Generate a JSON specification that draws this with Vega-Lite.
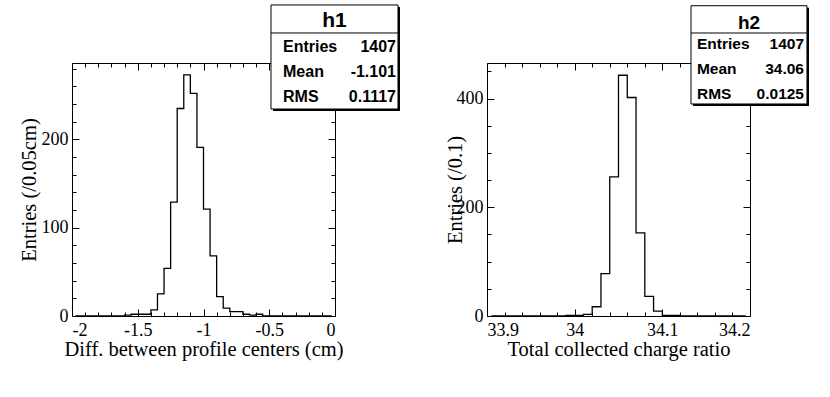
{
  "$schema": "https://vega.github.io/schema/vega-lite/v6.json",
  "background": "white",
  "padding": {"left": 19, "top": 3, "right": 5, "bottom": 5},
  "bounds": "flush",
  "spacing": 152,
  "config": {
    "view": {"stroke": "black", "strokeWidth": 1},
    "axis": {"labelFont": "Liberation Serif", "titleFont": "Liberation Serif", "labelColor": "black", "titleColor": "black", "titleFontWeight": "normal", "grid": false, "tickColor": "black", "domainColor": "black", "tickWidth": 1}
  },
  "datasets": {
    "h1": [
      {"center": -1.975, "entries": 0}, {"center": -1.925, "entries": 0}, {"center": -1.875, "entries": 0}, {"center": -1.825, "entries": 0},
      {"center": -1.775, "entries": 0}, {"center": -1.725, "entries": 0}, {"center": -1.675, "entries": 0}, {"center": -1.625, "entries": 0},
      {"center": -1.575, "entries": 1}, {"center": -1.525, "entries": 2}, {"center": -1.475, "entries": 2}, {"center": -1.425, "entries": 2},
      {"center": -1.375, "entries": 7}, {"center": -1.325, "entries": 25}, {"center": -1.275, "entries": 54}, {"center": -1.225, "entries": 129},
      {"center": -1.175, "entries": 235}, {"center": -1.125, "entries": 273}, {"center": -1.075, "entries": 252}, {"center": -1.025, "entries": 191},
      {"center": -0.975, "entries": 121}, {"center": -0.925, "entries": 68}, {"center": -0.875, "entries": 22}, {"center": -0.825, "entries": 9},
      {"center": -0.775, "entries": 5}, {"center": -0.725, "entries": 5}, {"center": -0.675, "entries": 2}, {"center": -0.625, "entries": 1},
      {"center": -0.575, "entries": 2}, {"center": -0.525, "entries": 0}, {"center": -0.475, "entries": 0}, {"center": -0.425, "entries": 0},
      {"center": -0.375, "entries": 0}, {"center": -0.325, "entries": 0}, {"center": -0.275, "entries": 0}, {"center": -0.225, "entries": 0},
      {"center": -0.175, "entries": 0}, {"center": -0.125, "entries": 0}, {"center": -0.075, "entries": 0}, {"center": -0.025, "entries": 0}
    ],
    "h2": [
      {"center": 33.905, "entries": 0}, {"center": 33.915, "entries": 0}, {"center": 33.925, "entries": 0}, {"center": 33.935, "entries": 0},
      {"center": 33.945, "entries": 0}, {"center": 33.955, "entries": 0}, {"center": 33.965, "entries": 0}, {"center": 33.975, "entries": 0},
      {"center": 33.985, "entries": 0}, {"center": 33.995, "entries": 1}, {"center": 34.005, "entries": 1}, {"center": 34.015, "entries": 3},
      {"center": 34.025, "entries": 17}, {"center": 34.035, "entries": 78}, {"center": 34.045, "entries": 256}, {"center": 34.055, "entries": 443},
      {"center": 34.065, "entries": 402}, {"center": 34.075, "entries": 153}, {"center": 34.085, "entries": 36}, {"center": 34.095, "entries": 9},
      {"center": 34.105, "entries": 1}, {"center": 34.115, "entries": 1}, {"center": 34.125, "entries": 0}, {"center": 34.135, "entries": 0},
      {"center": 34.145, "entries": 0}, {"center": 34.155, "entries": 0}, {"center": 34.165, "entries": 0}, {"center": 34.175, "entries": 0},
      {"center": 34.185, "entries": 0}, {"center": 34.195, "entries": 0}
    ],
    "t1": [{"name": "h1"}],
    "t2": [{"name": "h2"}],
    "s1": [{"label": "Entries", "value": "1407"}, {"label": "Mean", "value": "-1.101"}, {"label": "RMS", "value": "0.1117"}],
    "s2": [{"label": "Entries", "value": "1407"}, {"label": "Mean", "value": "34.06"}, {"label": "RMS", "value": "0.0125"}]
  },
  "hconcat": [
    {
      "width": 263,
      "height": 253,
      "resolve": {"scale": {"x": "independent", "y": "independent"}},
      "layer": [
        {
          "data": {"name": "h1"},
          "mark": {"type": "line", "interpolate": "step", "color": "black", "strokeWidth": 1.3},
          "encoding": {
            "x": {"field": "center", "type": "quantitative", "scale": {"domain": [-2, 0], "nice": false, "zero": false},
              "axis": {"orient": "bottom", "values": [-2, -1.5, -1, -0.5, 0], "ticks": false, "domain": false, "labelPadding": 5, "labelFontSize": 18, "labelExpr": "toString(datum.value)", "title": "Diff. between profile centers (cm)", "titleFontSize": 20.5, "titlePadding": 0}},
            "y": {"field": "entries", "type": "quantitative", "scale": {"domain": [0, 286.5], "nice": false, "zero": false},
              "axis": {"orient": "left", "values": [0, 100, 200], "ticks": false, "domain": false, "labelPadding": 4, "labelFontSize": 18, "title": "Entries (/0.05cm)", "titleFontSize": 20.5, "titlePadding": 1.5}}
          }
        },
        {
          "data": {"name": "h1"},
          "mark": {"type": "line", "opacity": 0},
          "encoding": {
            "x": {"field": "center", "type": "quantitative", "scale": {"domain": [-2, 0], "nice": false, "zero": false},
              "axis": {"orient": "bottom", "values": [-2, -1.9, -1.8, -1.7, -1.6, -1.5, -1.4, -1.3, -1.2, -1.1, -1, -0.9, -0.8, -0.7, -0.6, -0.5, -0.4, -0.3, -0.2, -0.1, 0], "labels": false, "domain": false, "title": null,
                "tickSize": {"condition": {"test": "abs(datum.value*2-round(datum.value*2))<1e-6", "value": -7}, "value": -4}}},
            "y": {"field": "entries", "type": "quantitative", "scale": {"domain": [0, 286.5], "nice": false, "zero": false},
              "axis": {"orient": "left", "values": [0, 20, 40, 60, 80, 100, 120, 140, 160, 180, 200, 220, 240, 260, 280], "labels": false, "domain": false, "title": null,
                "tickSize": {"condition": {"test": "datum.value % 100 === 0", "value": -7}, "value": -4}}}
          }
        },
        {
          "data": {"name": "h1"},
          "mark": {"type": "line", "opacity": 0},
          "encoding": {
            "x": {"field": "center", "type": "quantitative", "scale": {"domain": [-2, 0], "nice": false, "zero": false},
              "axis": {"orient": "top", "values": [-2, -1.9, -1.8, -1.7, -1.6, -1.5, -1.4, -1.3, -1.2, -1.1, -1, -0.9, -0.8, -0.7, -0.6, -0.5, -0.4, -0.3, -0.2, -0.1, 0], "labels": false, "domain": false, "title": null,
                "tickSize": {"condition": {"test": "abs(datum.value*2-round(datum.value*2))<1e-6", "value": -7}, "value": -4}}},
            "y": {"field": "entries", "type": "quantitative", "scale": {"domain": [0, 286.5], "nice": false, "zero": false},
              "axis": {"orient": "right", "values": [0, 20, 40, 60, 80, 100, 120, 140, 160, 180, 200, 220, 240, 260, 280], "labels": false, "domain": false, "title": null,
                "tickSize": {"condition": {"test": "datum.value % 100 === 0", "value": -7}, "value": -4}}}
          }
        },
        {
          "data": {"name": "t1"},
          "mark": {"type": "rect", "color": "black"},
          "encoding": {
            "x": {"datum": -0.4715, "type": "quantitative", "scale": {"domain": [-2, 0], "nice": false, "zero": false}, "axis": null},
            "x2": {"datum": 0.4942},
            "y": {"datum": 232.1, "type": "quantitative", "scale": {"domain": [0, 286.5], "nice": false, "zero": false}, "axis": null},
            "y2": {"datum": 349.9}
          }
        },
        {
          "data": {"name": "t1"},
          "mark": {"type": "rect", "fill": "white", "stroke": "black", "strokeWidth": 1},
          "encoding": {
            "x": {"datum": -0.4867, "type": "quantitative", "scale": {"domain": [-2, 0], "nice": false, "zero": false}, "axis": null},
            "x2": {"datum": 0.479},
            "y": {"datum": 234.4, "type": "quantitative", "scale": {"domain": [0, 286.5], "nice": false, "zero": false}, "axis": null},
            "y2": {"datum": 352.2}
          }
        },
        {
          "data": {"name": "t1"},
          "mark": {"type": "rule", "color": "black", "strokeWidth": 1},
          "encoding": {
            "x": {"datum": -0.4867, "type": "quantitative", "scale": {"domain": [-2, 0], "nice": false, "zero": false}, "axis": null},
            "x2": {"datum": 0.479},
            "y": {"datum": 320.5, "type": "quantitative", "scale": {"domain": [0, 286.5], "nice": false, "zero": false}, "axis": null}
          }
        },
        {
          "data": {"name": "t1"},
          "mark": {"type": "text", "font": "Liberation Sans", "fontWeight": "bold", "fontSize": 21, "align": "center", "baseline": "middle", "color": "black"},
          "encoding": {
            "x": {"datum": -0.004, "type": "quantitative", "scale": {"domain": [-2, 0], "nice": false, "zero": false}, "axis": null},
            "y": {"datum": 334, "type": "quantitative", "scale": {"domain": [0, 286.5], "nice": false, "zero": false}, "axis": null},
            "text": {"field": "name"}
          }
        },
        {
          "data": {"name": "s1"},
          "mark": {"type": "text", "font": "Liberation Sans", "fontWeight": "bold", "fontSize": 16, "align": "left", "baseline": "middle", "color": "black"},
          "encoding": {
            "x": {"datum": -0.3954, "type": "quantitative", "scale": {"domain": [-2, 0], "nice": false, "zero": false}, "axis": null},
            "y": {"field": "label", "type": "ordinal", "scale": {"type": "point", "domain": ["Entries", "Mean", "RMS"], "range": [-16, 34], "padding": 0}, "axis": null},
            "text": {"field": "label"}
          }
        },
        {
          "data": {"name": "s1"},
          "mark": {"type": "text", "font": "Liberation Sans", "fontWeight": "bold", "fontSize": 16, "align": "right", "baseline": "middle", "color": "black"},
          "encoding": {
            "x": {"datum": 0.4639, "type": "quantitative", "scale": {"domain": [-2, 0], "nice": false, "zero": false}, "axis": null},
            "y": {"field": "label", "type": "ordinal", "scale": {"type": "point", "domain": ["Entries", "Mean", "RMS"], "range": [-16, 34], "padding": 0}, "axis": null},
            "text": {"field": "value"}
          }
        }
      ]
    },
    {
      "width": 263,
      "height": 253,
      "resolve": {"scale": {"x": "independent", "y": "independent"}},
      "layer": [
        {
          "data": {"name": "h2"},
          "mark": {"type": "line", "interpolate": "step", "color": "black", "strokeWidth": 1.3},
          "encoding": {
            "x": {"field": "center", "type": "quantitative", "scale": {"domain": [33.9, 34.2], "nice": false, "zero": false},
              "axis": {"orient": "bottom", "values": [33.9, 34, 34.1, 34.2], "ticks": false, "domain": false, "labelPadding": 5, "labelFontSize": 18, "labelExpr": "toString(datum.value)", "title": "Total collected charge ratio", "titleFontSize": 20.5, "titlePadding": 0}},
            "y": {"field": "entries", "type": "quantitative", "scale": {"domain": [0, 465.5], "nice": false, "zero": false},
              "axis": {"orient": "left", "values": [0, 200, 400], "ticks": false, "domain": false, "labelPadding": 4, "labelFontSize": 18, "title": "Entries (/0.1)", "titleFontSize": 20.5, "titlePadding": -9}}
          }
        },
        {
          "data": {"name": "h2"},
          "mark": {"type": "line", "opacity": 0},
          "encoding": {
            "x": {"field": "center", "type": "quantitative", "scale": {"domain": [33.9, 34.2], "nice": false, "zero": false},
              "axis": {"orient": "bottom", "values": [33.9, 33.92, 33.94, 33.96, 33.98, 34, 34.02, 34.04, 34.06, 34.08, 34.1, 34.12, 34.14, 34.16, 34.18, 34.2], "labels": false, "domain": false, "title": null,
                "tickSize": {"condition": {"test": "abs(datum.value*10-round(datum.value*10))<1e-6", "value": -7}, "value": -4}}},
            "y": {"field": "entries", "type": "quantitative", "scale": {"domain": [0, 465.5], "nice": false, "zero": false},
              "axis": {"orient": "left", "values": [0, 50, 100, 150, 200, 250, 300, 350, 400, 450], "labels": false, "domain": false, "title": null,
                "tickSize": {"condition": {"test": "datum.value % 200 === 0", "value": -7}, "value": -4}}}
          }
        },
        {
          "data": {"name": "h2"},
          "mark": {"type": "line", "opacity": 0},
          "encoding": {
            "x": {"field": "center", "type": "quantitative", "scale": {"domain": [33.9, 34.2], "nice": false, "zero": false},
              "axis": {"orient": "top", "values": [33.9, 33.92, 33.94, 33.96, 33.98, 34, 34.02, 34.04, 34.06, 34.08, 34.1, 34.12, 34.14, 34.16, 34.18, 34.2], "labels": false, "domain": false, "title": null,
                "tickSize": {"condition": {"test": "abs(datum.value*10-round(datum.value*10))<1e-6", "value": -7}, "value": -4}}},
            "y": {"field": "entries", "type": "quantitative", "scale": {"domain": [0, 465.5], "nice": false, "zero": false},
              "axis": {"orient": "right", "values": [0, 50, 100, 150, 200, 250, 300, 350, 400, 450], "labels": false, "domain": false, "title": null,
                "tickSize": {"condition": {"test": "datum.value % 200 === 0", "value": -7}, "value": -4}}}
          }
        },
        {
          "data": {"name": "t2"},
          "mark": {"type": "rect", "color": "black"},
          "encoding": {
            "x": {"datum": 34.135, "type": "quantitative", "scale": {"domain": [33.9, 34.2], "nice": false, "zero": false}, "axis": null},
            "x2": {"datum": 34.2673},
            "y": {"datum": 386.4, "type": "quantitative", "scale": {"domain": [0, 465.5], "nice": false, "zero": false}, "axis": null},
            "y2": {"datum": 567.2}
          }
        },
        {
          "data": {"name": "t2"},
          "mark": {"type": "rect", "fill": "white", "stroke": "black", "strokeWidth": 1},
          "encoding": {
            "x": {"datum": 34.1327, "type": "quantitative", "scale": {"domain": [33.9, 34.2], "nice": false, "zero": false}, "axis": null},
            "x2": {"datum": 34.265},
            "y": {"datum": 390.1, "type": "quantitative", "scale": {"domain": [0, 465.5], "nice": false, "zero": false}, "axis": null},
            "y2": {"datum": 570.9}
          }
        },
        {
          "data": {"name": "t2"},
          "mark": {"type": "rule", "color": "black", "strokeWidth": 1},
          "encoding": {
            "x": {"datum": 34.1327, "type": "quantitative", "scale": {"domain": [33.9, 34.2], "nice": false, "zero": false}, "axis": null},
            "x2": {"datum": 34.265},
            "y": {"datum": 520.7, "type": "quantitative", "scale": {"domain": [0, 465.5], "nice": false, "zero": false}, "axis": null}
          }
        },
        {
          "data": {"name": "t2"},
          "mark": {"type": "text", "font": "Liberation Sans", "fontWeight": "bold", "fontSize": 19, "align": "center", "baseline": "middle", "color": "black"},
          "encoding": {
            "x": {"datum": 34.1989, "type": "quantitative", "scale": {"domain": [33.9, 34.2], "nice": false, "zero": false}, "axis": null},
            "y": {"datum": 539.1, "type": "quantitative", "scale": {"domain": [0, 465.5], "nice": false, "zero": false}, "axis": null},
            "text": {"field": "name"}
          }
        },
        {
          "data": {"name": "s2"},
          "mark": {"type": "text", "font": "Liberation Sans", "fontWeight": "bold", "fontSize": 15.5, "align": "left", "baseline": "middle", "color": "black"},
          "encoding": {
            "x": {"datum": 34.1395, "type": "quantitative", "scale": {"domain": [33.9, 34.2], "nice": false, "zero": false}, "axis": null},
            "y": {"field": "label", "type": "ordinal", "scale": {"type": "point", "domain": ["Entries", "Mean", "RMS"], "range": [-19, 31], "padding": 0}, "axis": null},
            "text": {"field": "label"}
          }
        },
        {
          "data": {"name": "s2"},
          "mark": {"type": "text", "font": "Liberation Sans", "fontWeight": "bold", "fontSize": 15.5, "align": "right", "baseline": "middle", "color": "black"},
          "encoding": {
            "x": {"datum": 34.2616, "type": "quantitative", "scale": {"domain": [33.9, 34.2], "nice": false, "zero": false}, "axis": null},
            "y": {"field": "label", "type": "ordinal", "scale": {"type": "point", "domain": ["Entries", "Mean", "RMS"], "range": [-19, 31], "padding": 0}, "axis": null},
            "text": {"field": "value"}
          }
        }
      ]
    }
  ]
}
